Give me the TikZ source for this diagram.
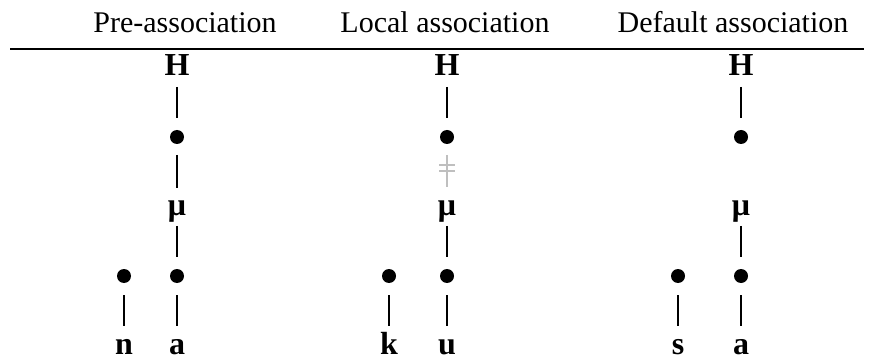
\documentclass[tikz,border=0pt]{standalone}
\usepackage{fontspec}
\setmainfont{Liberation Serif}
\begin{document}
\begin{tikzpicture}[x=1pt,y=-1pt,
  head/.style={font=\fontsize{30}{32}\selectfont, anchor=base, inner sep=0pt},
  seg/.style={font=\fontsize{32}{34}\selectfont\bfseries, anchor=base, inner sep=0pt},
  dot/.style={circle, fill=black, inner sep=0pt, minimum size=14pt},
  tie/.style 2 args={line width=2.7pt, shorten <=#1, shorten >=#2},
  cut/.style={line width=2.2pt, draw=black!25}]
\useasboundingbox (0,0) rectangle (870,358);

% column headings and rule
\node[head] (t1) at (185,33) {Pre-association};
\node[head] (t2) at (445,33) {Local association};
\node[head] (t3) at (733,33) {Default association};
\coordinate (rl) at (10,49);
\coordinate (rr) at (864,49);
\draw[line width=2.7pt] (rl) -- (rr);

% Pre-association
\node[seg] (h1) at (177,76) {H};
\node[dot] (p1) at (177,137) {};
\node[seg] (m1) at (177,215) {μ};
\node[dot] (q1) at (177,276) {};
\node[dot] (r1) at (124,276) {};
\node[seg] (a1) at (177,354) {a};
\node[seg] (n1) at (124,354) {n};
\draw[tie={11}{19}] (h1.base) -- (p1.center);
\draw[tie={18}{27}] (p1.center) -- (m1.base);
\draw[tie={11}{19}] (m1.base) -- (q1.center);
\draw[tie={19}{28}] (q1.center) -- (a1.base);
\draw[tie={19}{28}] (r1.center) -- (n1.base);

% Local association
\node[seg] (h2) at (447,76) {H};
\node[dot] (p2) at (447,137) {};
\node[seg] (m2) at (447,215) {μ};
\node[dot] (q2) at (447,276) {};
\node[dot] (r2) at (389,276) {};
\node[seg] (a2) at (447,354) {u};
\node[seg] (n2) at (389,354) {k};
\draw[tie={11}{19}] (h2.base) -- (p2.center);
\draw[cut, shorten <=18, shorten >=28] (p2.center) -- (m2.base);
\draw[cut] (439,165) -- (455,165);
\draw[cut] (439,171) -- (455,171);
\draw[tie={11}{19}] (m2.base) -- (q2.center);
\draw[tie={19}{28}] (q2.center) -- (a2.base);
\draw[tie={19}{28}] (r2.center) -- (n2.base);

% Default association
\node[seg] (h3) at (741,76) {H};
\node[dot] (p3) at (741,137) {};
\node[seg] (m3) at (741,215) {μ};
\node[dot] (q3) at (741,276) {};
\node[dot] (r3) at (678,276) {};
\node[seg] (a3) at (741,354) {a};
\node[seg] (n3) at (678,354) {s};
\draw[tie={11}{19}] (h3.base) -- (p3.center);
\draw[tie={11}{19}] (m3.base) -- (q3.center);
\draw[tie={19}{28}] (q3.center) -- (a3.base);
\draw[tie={19}{28}] (r3.center) -- (n3.base);
\end{tikzpicture}
\end{document}
